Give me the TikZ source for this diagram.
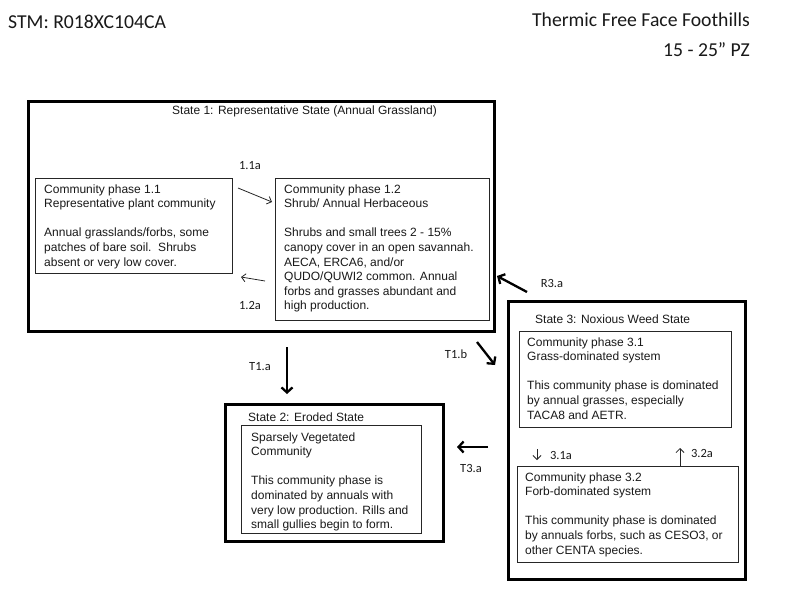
\documentclass[tikz,border=0pt]{standalone}
\usepackage{fontspec}
\setmainfont{Liberation Sans}
\newfontfamily\hdrfont{Carlito}
\usetikzlibrary{arrows.meta}
\tikzset{
  statebox/.style={draw=black, line width=2.6pt, anchor=north west, inner sep=0pt},
  phasebox/.style={draw=black!85, line width=0.9pt, anchor=north west, inner sep=0pt},
  bodytext/.style={anchor=north west, inner sep=0pt, align=left, font=\fontsize{12}{14.6}\selectfont, text=black!90},
  titletext/.style={anchor=north west, inner sep=0pt, font=\fontsize{12}{14.6}\selectfont, text=black!90},
  lbl/.style={inner sep=0pt, font=\hdrfont\fontsize{12.5}{14}\selectfont, text=black!90},
  hdr/.style={inner sep=0pt, font=\hdrfont\fontsize{19.7}{22}\selectfont, text=black!90},
  thinarr/.style={line width=0.8pt, draw=black!85, -{Straight Barb[length=4pt,width=8pt]}},
  thickarr/.style={line width=2.3pt, draw=black, -{Straight Barb[length=5pt,width=11pt]}},
}
\begin{document}
\begin{tikzpicture}[x=1pt,y=-1pt]
\useasboundingbox[fill=white] (0,0) rectangle (800,600);

% header
\node[hdr, anchor=base west] (stm) at (8,28.5) {STM: R018XC104CA};
\node[hdr, anchor=base east] (site) at (750,26.5) {Thermic Free Face Foothills};
\node[hdr, anchor=base east] (pz) at (750,56.5) {15 - 25” PZ};

% State 1
\node[statebox, minimum width=466pt, minimum height=230pt] (s1) at (27,100) {};
\node[titletext] (s1t) at (172,105.2) {State 1: Representative State (Annual Grassland)};
\node[phasebox, minimum width=197pt, minimum height=95pt] (p11) at (35,178) {};
\node[bodytext] (p11t) at (44,184.2) {Community phase 1.1\\Representative plant community\\[14.6pt]Annual grasslands/forbs, some\\patches of bare soil.\ \ Shrubs\\absent or very low cover.};
\node[phasebox, minimum width=214pt, minimum height=142pt] (p12) at (275,178) {};
\node[bodytext] (p12t) at (284,184.2) {Community phase 1.2\\Shrub/ Annual Herbaceous\\[14.6pt]Shrubs and small trees 2 - 15\%\\canopy cover in an open savannah.\\AECA, ERCA6, and/or\\QUDO/QUWI2 common. Annual\\forbs and grasses abundant and\\high production.};

\coordinate (a11s) at (238,188);
\coordinate (a11e) at (272,202);
\draw[thinarr] (a11s) -- (a11e);
\node[lbl] (l11) at (250,166) {1.1a};
\coordinate (a12s) at (265,281);
\coordinate (a12e) at (241,277);
\draw[thinarr] (a12s) -- (a12e);
\node[lbl] (l12) at (250,305) {1.2a};

% State 2
\node[statebox, minimum width=218pt, minimum height=137pt] (s2) at (224,403) {};
\node[titletext] (s2t) at (248,412.2) {State 2: Eroded State};
\node[phasebox, minimum width=180pt, minimum height=108pt] (p21) at (241,425) {};
\node[bodytext] (p21t) at (251,432.2) {Sparsely Vegetated\\Community\\[14.6pt]This community phase is\\dominated by annuals with\\very low production. Rills and\\small gullies begin to form.};

% State 3
\node[statebox, minimum width=237pt, minimum height=278pt] (s3) at (507,300) {};
\node[titletext] (s3t) at (535,314.2) {State 3: Noxious Weed State};
\node[phasebox, minimum width=212pt, minimum height=96pt] (p31) at (519,331) {};
\node[bodytext] (p31t) at (527,337.2) {Community phase 3.1\\Grass-dominated system\\[14.6pt]This community phase is dominated\\by annual grasses, especially\\TACA8 and AETR.};
\node[phasebox, minimum width=221pt, minimum height=96pt] (p32) at (517,466) {};
\node[bodytext] (p32t) at (525,472.2) {Community phase 3.2\\Forb-dominated system\\[14.6pt]This community phase is dominated\\by annuals forbs, such as CESO3, or\\other CENTA species.};

\coordinate (a31s) at (537,449);
\coordinate (a31e) at (537,460);
\draw[thinarr] (a31s) -- (a31e);
\node[lbl] (l31) at (561,455) {3.1a};
\coordinate (a32e) at (680,448);
\draw[thinarr] (p32.north west -| a32e) -- (a32e);
\node[lbl] (l32) at (702,453) {3.2a};

% transitions
\coordinate (r3s) at (527,292);
\coordinate (r3e) at (497,276);
\draw[thickarr] (r3s) -- (r3e);
\node[lbl] (lr3) at (552,283) {R3.a};

\coordinate (t1bs) at (477,342);
\coordinate (t1be) at (495,365);
\draw[thickarr] (t1bs) -- (t1be);
\node[lbl] (lt1b) at (456,354) {T1.b};

\coordinate (t1as) at (287,347);
\coordinate (t1ae) at (287,394);
\draw[thickarr] (t1as) -- (t1ae);
\node[lbl] (lt1a) at (260,367) {T1.a};

\coordinate (t3s) at (488,447);
\coordinate (t3e) at (457,447);
\draw[thickarr] (t3s) -- (t3e);
\node[lbl] (lt3) at (471,468) {T3.a};
\end{tikzpicture}
\end{document}
